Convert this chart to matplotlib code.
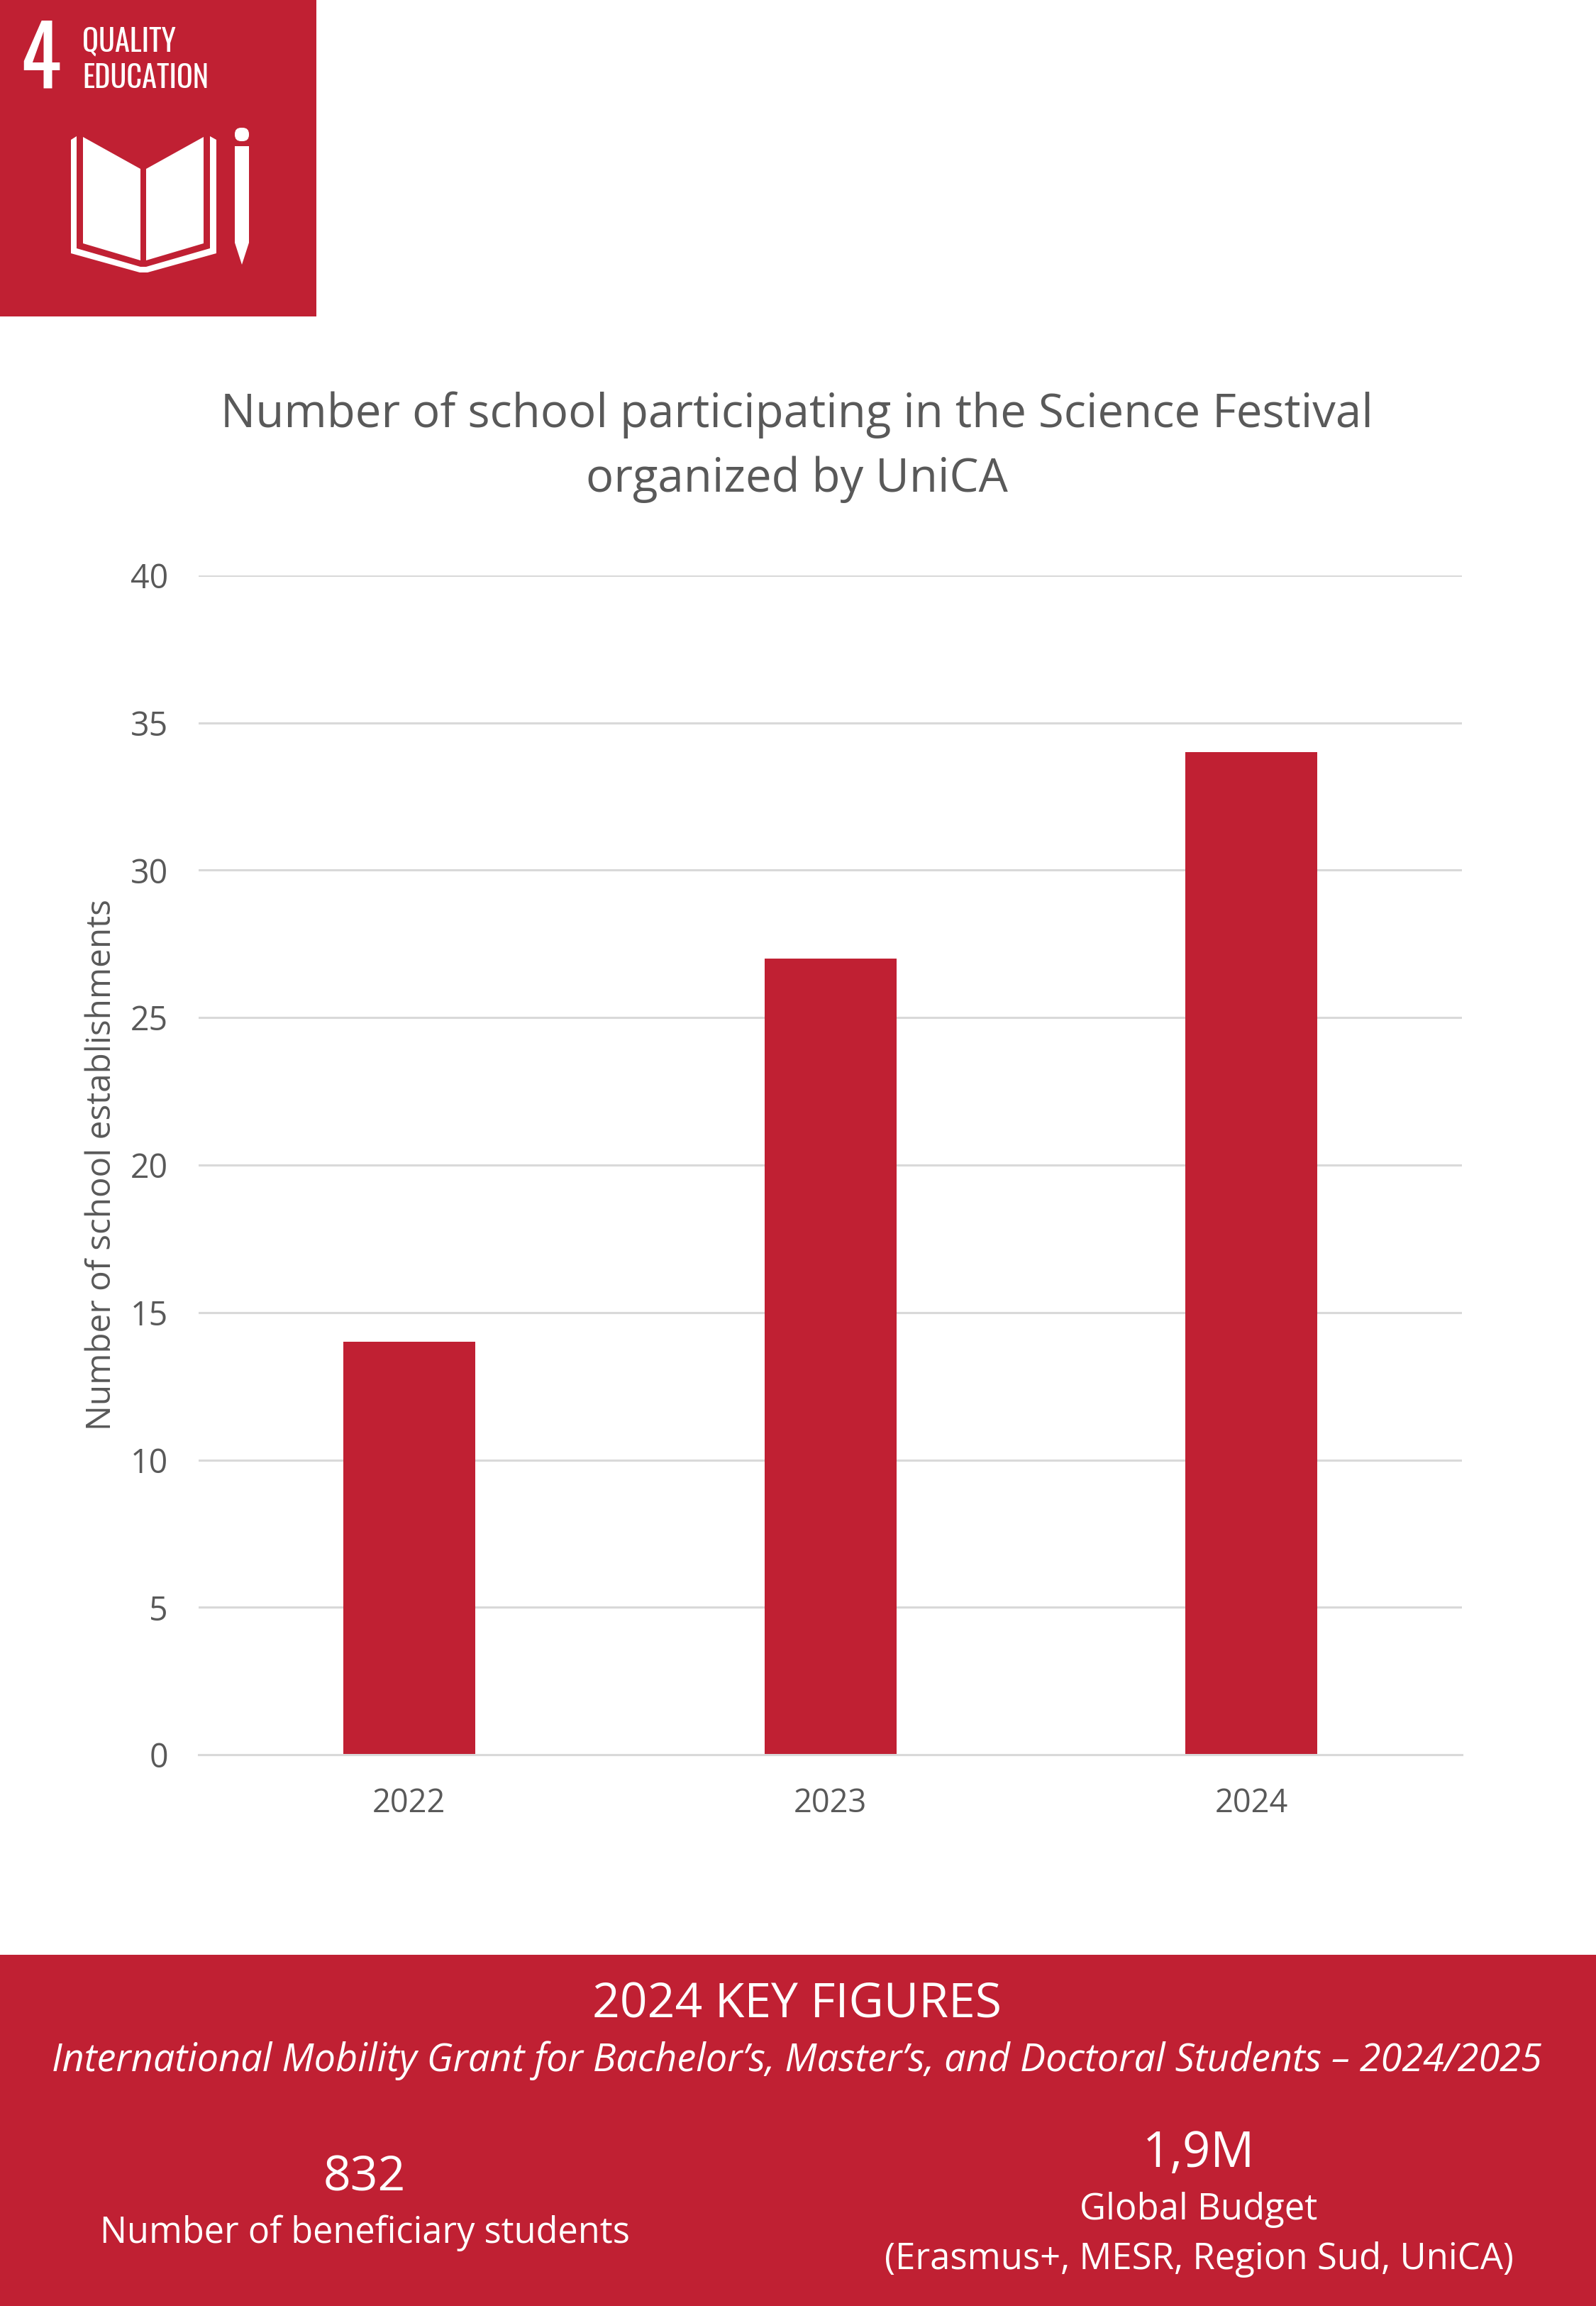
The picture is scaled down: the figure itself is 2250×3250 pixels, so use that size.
import matplotlib
matplotlib.use("Agg")
import matplotlib.pyplot as plt
from matplotlib.patches import Rectangle, Polygon, FancyBboxPatch
import logging
logging.getLogger('matplotlib.font_manager').setLevel(logging.ERROR)

plt.rcParams['font.family'] = ['Open Sans', 'DejaVu Sans']

years = ['2022', '2023', '2024']
schools = [14, 27, 34]
yticks = [0, 5, 10, 15, 20, 25, 30, 35, 40]
title = 'Number of school participating in the Science Festival\norganized by UniCA'
ylabel = 'Number of school establishments'

RED = '#C02033'
GREY = '#595959'
W, H = 2250, 3250
fig = plt.figure(figsize=(22.5, 32.5), dpi=100, facecolor='white')

# full-figure overlay in pixel coordinates (y down)
bg = fig.add_axes([0, 0, 1, 1])
bg.set_xlim(0, W); bg.set_ylim(H, 0); bg.axis('off')
bg.add_patch(Rectangle((0, 0), 446, 446, fc=RED, ec='none'))
bg.add_patch(Rectangle((0, 2755), W, H - 2755, fc=RED, ec='none'))

# SDG 4 logo
wh = dict(fc='white', ec='none')
bg.add_patch(Polygon([(117, 193), (198, 238), (198, 367), (117, 343)], **wh))
bg.add_patch(Polygon([(206, 238), (287, 193), (287, 343), (206, 367)], **wh))
bg.add_patch(Polygon([(100, 197), (108, 192), (108, 350), (198, 376), (206, 376), (296, 350),
                     (296, 192), (305, 197), (305, 357), (208, 384), (197, 384), (100, 357)], **wh))
bg.add_patch(FancyBboxPatch((331, 180), 20, 19, boxstyle='round,pad=0,rounding_size=9',
                            mutation_aspect=1, **wh))
bg.add_patch(Polygon([(331, 206), (351, 206), (351, 342), (341, 373), (331, 342)], **wh))
nar = ['Oswald', 'Antonio', 'Pathway Gothic One', 'Fira Sans Extra Condensed', 'DejaVu Sans']
bg.text(57, 124, '4', color='white', family=nar, weight='bold', fontsize=85,
        ha='center', va='baseline')
bg.text(116, 72, 'QUALITY', color='white', family=nar, weight='bold', fontsize=30.5,
        ha='left', va='baseline')
bg.text(116, 124, 'EDUCATION', color='white', family=nar, weight='bold', fontsize=30.5,
        ha='left', va='baseline')

# chart
ax = fig.add_axes([280 / W, 1 - 2473 / H, (2061 - 280) / W, (2473 - 811) / H])
ax.set_zorder(2)
ax.patch.set_alpha(0)
ax.bar(years, schools, width=186 / ((2061 - 280) / 3), color=RED, zorder=3)
ax.set_xlim(-0.5, 2.5)
ax.set_ylim(0, 40)
ax.set_yticks(yticks)
ax.grid(axis='y', color='#D9D9D9', linewidth=2.2, zorder=0)
ax.set_axisbelow(True)
for s in ['top', 'left', 'right']:
    ax.spines[s].set_visible(False)
ax.spines['bottom'].set_color('#D9D9D9')
ax.spines['bottom'].set_linewidth(2.2)
ax.spines['bottom'].set_zorder(4)
ax.tick_params(axis='both', length=0, labelcolor=GREY)
ax.tick_params(axis='x', pad=33, labelsize=32.5)
ax.tick_params(axis='y', pad=31, labelsize=33.5)
ax.set_ylabel(ylabel, fontsize=34.3, color=GREY, labelpad=0)
ax.yaxis.set_label_coords((167 - 280) / (2061 - 280), 0.5)

bg.text(1123, 630, title, fontsize=47, color=GREY, ha='center', va='center', linespacing=1.49)

# key figures band
def band(x, y, s, size, **kw):
    bg.text(x, y, s, color='white', fontsize=size, ha='center', va='center', **kw)

band(1123, 2826, '2024 KEY FIGURES', 48.8)
band(1123, 2904, 'International Mobility Grant for Bachelor’s, Master’s, and Doctoral Students – 2024/2025',
     38.9, style='italic')
band(514, 3070, '832', 49)
band(514, 3147, 'Number of beneficiary students', 36.4)
band(1690, 3036, '1,9M', 49.5)
band(1690, 3115, 'Global Budget', 36.6)
band(1690, 3185, '(Erasmus+, MESR, Region Sud, UniCA)', 36.6)

fig.savefig('out.png', dpi=100, facecolor='white')
